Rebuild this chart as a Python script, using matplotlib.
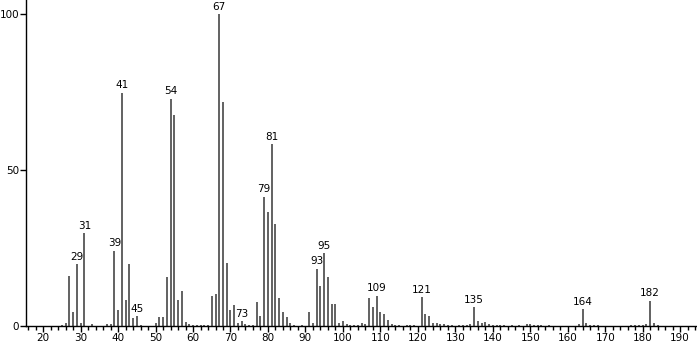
import matplotlib
matplotlib.use('Agg')
import matplotlib.pyplot as plt
from matplotlib.ticker import MultipleLocator

# m/z values and relative intensities
mz = [25, 26, 27, 28, 29, 30, 31, 33, 37, 38, 39, 40, 41, 42, 43, 44, 45, 46,
      50, 51, 52, 53, 54, 55, 56, 57, 58, 59, 60, 61, 62, 63, 64, 65, 66, 67,
      68, 69, 70, 71, 72, 73, 74, 75, 76, 77, 78, 79, 80, 81, 82, 83, 84, 85,
      86, 87, 89, 91, 92, 93, 94, 95, 96, 97, 98, 99, 100, 101, 102, 103, 104,
      105, 106, 107, 108, 109, 110, 111, 112, 113, 114, 115, 117, 118, 119,
      121, 122, 123, 124, 125, 126, 127, 128, 129, 131, 132, 133, 134, 135,
      136, 137, 138, 139, 140, 141, 142, 143, 145, 147, 149, 150, 151, 152,
      153, 155, 163, 164, 165, 166, 167, 168, 177, 178, 179, 180, 181, 182,
      183, 184]
intensity = [0.5, 1.1, 16.2, 4.6, 19.9, 1.0, 29.8, 0.6, 0.6, 0.8, 24.2, 5.1,
             74.9, 8.4, 20.0, 2.8, 3.3, 0.5,
             1.1, 2.9, 2.9, 15.9, 72.9, 67.8, 8.4, 11.2, 1.5, 0.8, 0.5, 0.4,
             0.5, 0.5, 0.5, 9.6, 10.3, 100.0,
             71.8, 20.3, 5.4, 6.8, 1.2, 1.7, 0.6, 0.5, 0.5, 7.9, 3.3, 41.5,
             36.6, 58.4, 32.9, 9.2, 4.5, 2.9,
             1.0, 0.5, 0.5, 4.5, 1.1, 18.5, 13.0, 23.5, 15.9, 7.2, 7.3, 1.2,
             1.6, 0.6, 0.5, 0.5, 0.5,
             1.0, 0.7, 9.0, 6.3, 9.8, 4.5, 3.9, 2.0, 0.6, 0.5, 0.5, 0.5, 0.5,
             0.5,
             9.4, 4.0, 3.3, 1.0, 1.2, 0.6, 0.6, 0.5, 0.5, 0.5, 0.5, 0.5, 0.6,
             6.2,
             1.7, 1.0, 1.4, 0.8, 0.5, 0.4, 0.4, 0.4, 0.4, 0.4, 0.8, 0.6, 0.5,
             0.5,
             0.5, 0.5, 0.6, 5.5, 1.0, 0.5, 0.5, 0.5, 0.5, 0.5, 0.5, 0.5, 0.6,
             8.2,
             1.2, 0.5]
labeled = [29, 31, 39, 41, 45, 54, 67, 73, 79, 81, 93, 95, 109, 121, 135, 164, 182]

fig = plt.figure(figsize=(6.97, 3.45), dpi=100)
ax = fig.add_axes([0.0377, 0.054, 0.9623, 0.946])

ax.vlines(mz, 0, intensity, colors='#555555', linewidth=1.3)

lookup = dict(zip(mz, intensity))
for m in labeled:
    ax.text(m, lookup[m] + 0.8, str(m), ha='center', va='bottom',
            fontsize=7.5, color='black')

ax.set_xlim(15.5, 194.5)
ax.set_ylim(0, 104.6)
ax.xaxis.set_major_locator(MultipleLocator(10))
ax.xaxis.set_minor_locator(MultipleLocator(2))
ax.set_yticks([0, 50, 100])
ax.tick_params(axis='both', which='major', length=4, width=1, labelsize=7.5,
               pad=1, color='black')
ax.tick_params(axis='x', which='minor', length=3, width=1, color='black')

for side in ['top', 'right']:
    ax.spines[side].set_visible(False)
for side in ['left', 'bottom']:
    ax.spines[side].set_linewidth(1)

fig.savefig('out.png', dpi=100)
